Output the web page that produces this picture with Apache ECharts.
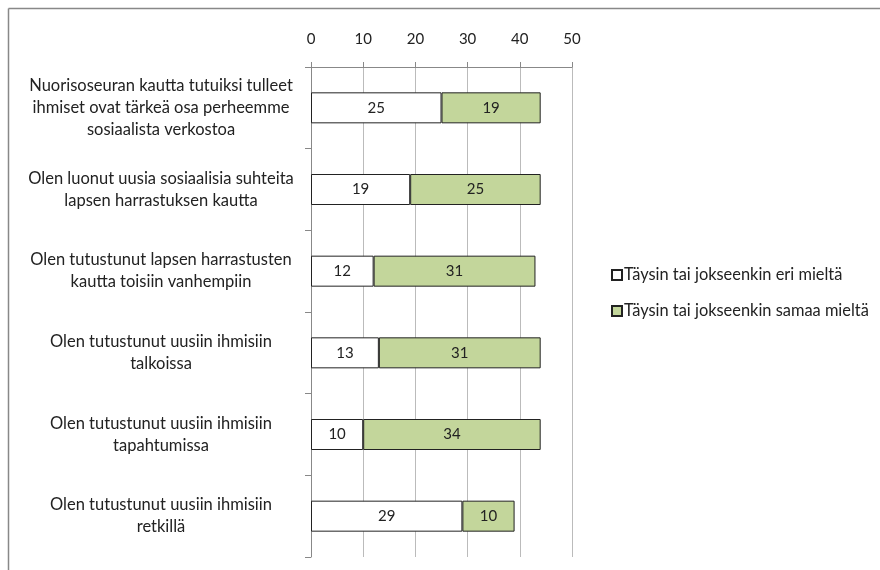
<!DOCTYPE html>
<html><head><meta charset="utf-8">
<script src="https://cdn.jsdelivr.net/npm/echarts@6/dist/echarts.min.js"></script>
<style>html,body{margin:0;padding:0;background:#fff}#c{width:880px;height:570px}</style>
</head><body><div id="c"></div>
<script>
const categories = [
  "Nuorisoseuran kautta tutuiksi tulleet\nihmiset ovat tärkeä osa perheemme\nsosiaalista verkostoa",
  "Olen luonut uusia sosiaalisia suhteita\nlapsen harrastuksen kautta",
  "Olen tutustunut lapsen harrastusten\nkautta toisiin vanhempiin",
  "Olen tutustunut uusiin ihmisiin\ntalkoissa",
  "Olen tutustunut uusiin ihmisiin\ntapahtumissa",
  "Olen tutustunut uusiin ihmisiin\nretkillä"
];
const seriesNames = ["Täysin tai jokseenkin eri mieltä", "Täysin tai jokseenkin samaa mieltä"];
const disagree = [25, 19, 12, 13, 10, 29];
const agree = [19, 25, 31, 31, 34, 10];
const xTicks = [0, 10, 20, 30, 40, 50];

const font = "Lato, 'Open Sans', sans-serif";
const chart = echarts.init(document.getElementById('c'));
chart.setOption({
  animation: false,
  backgroundColor: '#fff',
  textStyle: { fontFamily: font },
  graphic: [
    { type: 'line', shape: { x1: 8.5, y1: 8.5, x2: 880, y2: 8.5 }, style: { stroke: '#888', lineWidth: 1.5 } },
    { type: 'line', shape: { x1: 8.5, y1: 8.5, x2: 8.5, y2: 570 }, style: { stroke: '#888', lineWidth: 1.5 } }
  ],
  grid: { left: 311, right: 308, top: 67, bottom: 13, containLabel: false },
  legend: {
    orient: 'vertical', left: 606, top: 262, itemGap: 20,
    itemWidth: 10, itemHeight: 10, icon: 'rect',
    textStyle: { fontFamily: font, fontSize: 16.4, color: '#222', padding: [0, 0, 0, -3] },
    data: seriesNames
  },
  xAxis: {
    type: 'value', position: 'top', min: xTicks[0], max: xTicks[xTicks.length - 1], interval: 10,
    axisLine: { show: true, lineStyle: { color: '#888' } },
    axisTick: { show: true, length: 5, lineStyle: { color: '#888' } },
    axisLabel: { fontFamily: font, fontSize: 15, color: '#222', margin: 20 },
    splitLine: { show: true, lineStyle: { color: '#bbb' } }
  },
  yAxis: {
    type: 'category', inverse: true, data: categories,
    axisLine: { show: true, onZero: false, lineStyle: { color: '#888' } },
    axisTick: { show: true, length: 6, lineStyle: { color: '#888' } },
    axisLabel: { fontFamily: font, fontSize: 16.5, color: '#222', align: 'center', margin: 150, lineHeight: 22 }
  },
  series: [
    {
      name: seriesNames[0], type: 'bar', stack: 's', data: disagree, barWidth: 31,
      itemStyle: { color: '#ffffff', borderColor: '#222', borderWidth: 1 },
      label: { show: true, position: 'inside', fontFamily: font, fontSize: 15, color: '#222' }
    },
    {
      name: seriesNames[1], type: 'bar', stack: 's', data: agree, barWidth: 31,
      itemStyle: { color: '#c3d69b', borderColor: '#222', borderWidth: 1 },
      label: { show: true, position: 'inside', fontFamily: font, fontSize: 15, color: '#222' }
    }
  ]
});
</script></body></html>
